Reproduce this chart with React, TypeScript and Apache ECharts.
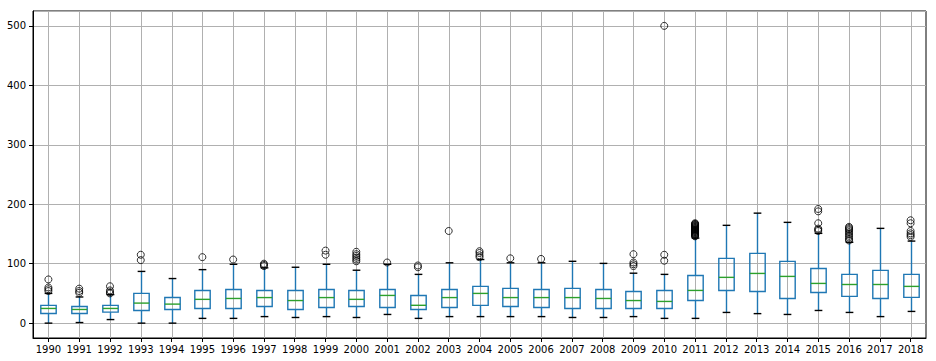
import React, { useEffect, useRef } from "react";
import * as echarts from "echarts";

const years = [
  "1990", "1991", "1992", "1993", "1994", "1995", "1996", "1997", "1998", "1999",
  "2000", "2001", "2002", "2003", "2004", "2005", "2006", "2007", "2008", "2009",
  "2010", "2011", "2012", "2013", "2014", "2015", "2016", "2017", "2018",
];

const whiskerLow = [0, 1, 6, 0, 0, 8, 8, 11, 9.5, 11, 9.5, 14.6, 8, 11, 11, 11, 11, 9.5, 9.5, 11, 8, 8, 18, 16, 14.6, 21.3, 18, 11, 19.7];
const q1 = [16.3, 16.3, 18.5, 21.3, 23, 24.7, 24.7, 28, 23, 26.4, 28, 26.4, 23, 26.4, 29.8, 28, 26.4, 24.7, 24.7, 24.7, 24.7, 38, 55, 53.3, 41.5, 51.6, 45, 41.5, 43.3];
const medians = [24.7, 23, 24.7, 33.7, 32, 40, 41.5, 43, 38, 43, 40, 46.6, 30, 43, 50, 43, 43, 43, 41.5, 38, 36.5, 55, 77, 83.6, 78.6, 66.8, 65, 65, 61.8];
const q3 = [29.8, 28, 29.8, 50, 43, 55, 56.7, 55, 55, 56.7, 55, 56.7, 46.6, 56.7, 61.8, 58.4, 56.7, 58.4, 56.7, 53.3, 55, 80, 109, 117.3, 103.8, 92, 82, 88.7, 82];
const whiskerHigh = [50, 44, 48, 87, 75, 90, 99, 93, 94, 99, 89, 99, 82, 101.5, 107, 101.5, 101.5, 104, 100.5, 84, 82, 143, 164.5, 185, 169.5, 151, 136, 159.4, 138];

const outliers: number[][] = [
  [73.5, 60, 57, 54],
  [58, 54, 51],
  [62, 55, 52, 50],
  [115, 106],
  [],
  [111],
  [107],
  [100, 98, 96],
  [],
  [122, 115],
  [120, 116, 113, 110, 107, 104],
  [102],
  [97, 94],
  [155],
  [121, 118, 114, 111],
  [109],
  [108],
  [],
  [],
  [116, 102, 99, 96],
  [500, 115, 105],
  [146, 147, 148, 149, 150, 151, 152, 153, 154, 155, 156, 157, 158, 159, 160, 161, 162, 163, 164, 165, 166, 167, 168],
  [],
  [],
  [],
  [192, 188, 168, 159, 157, 155],
  [162, 160, 158, 156, 153, 150, 147, 144, 141, 139],
  [],
  [173, 168, 155, 151, 148, 145],
];

const BLUE = "#1f77b4";
const GREEN = "#2ca02c";
const GRID = "#b0b0b0";
const FONT = "DejaVu Sans";

export default function App() {
  const ref = useRef<HTMLDivElement>(null);

  useEffect(() => {
    if (!ref.current) return;
    const chart = echarts.init(ref.current, undefined, { renderer: "svg" });

    const boxData = years.map((_, i) => [i, whiskerLow[i], q1[i], medians[i], q3[i], whiskerHigh[i]]);
    const outlierData: number[][] = [];
    outliers.forEach((list, i) => list.forEach((v) => outlierData.push([i, v])));

    const option: any = {
      animation: false,
      backgroundColor: "#ffffff",
      grid: {
        left: 33,
        right: 10,
        top: 11,
        bottom: 23,
        show: true,
        borderColor: "#000",
        borderWidth: 1,
        backgroundColor: "transparent",
      },
      xAxis: {
        type: "category",
        data: years,
        boundaryGap: true,
        axisLine: { show: true, onZero: false, lineStyle: { color: "#000", width: 1 } },
        axisTick: { show: true, alignWithLabel: true, length: 4, lineStyle: { color: "#000" } },
        axisLabel: { color: "#000", fontFamily: FONT, fontSize: 10, margin: 6, interval: 0 },
        splitLine: { show: false },
      },
      yAxis: {
        type: "value",
        min: -25,
        max: 525,
        splitNumber: 5,
        axisLine: { show: true, onZero: false, lineStyle: { color: "#000", width: 1 } },
        axisTick: { show: true, length: 4, lineStyle: { color: "#000" } },
        axisLabel: {
          color: "#000",
          fontFamily: FONT,
          fontSize: 10,
          margin: 7,
          showMinLabel: false,
          showMaxLabel: false,
          formatter: (v: number) => (v % 100 === 0 ? String(v) : ""),
        },
        splitLine: { show: true, lineStyle: { color: GRID, width: 1 } },
      },
      series: [
        {
          type: "custom",
          data: boxData,
          encode: { x: 0, y: [1, 2, 3, 4, 5] },
          z: 3,
          renderItem: (params: any, api: any) => {
            const idx = api.value(0);
            const lo = api.coord([idx, api.value(1)]);
            const b1 = api.coord([idx, api.value(2)]);
            const md = api.coord([idx, api.value(3)]);
            const b3 = api.coord([idx, api.value(4)]);
            const hi = api.coord([idx, api.value(5)]);
            const band = api.size([1, 0])[0];
            const bw = band * 0.5;
            const cw = bw * 0.5;
            const x = Math.round(lo[0]) + 0.5;
            const cs = params.coordSys;
            const lw = 1.4;
            return {
              type: "group",
              children: [
                {
                  type: "line",
                  shape: { x1: x, y1: cs.y, x2: x, y2: cs.y + cs.height },
                  style: { stroke: GRID, lineWidth: 1 },
                  z2: 0,
                },
                {
                  type: "line",
                  shape: { x1: x, y1: b3[1], x2: x, y2: hi[1] },
                  style: { stroke: BLUE, lineWidth: lw },
                  z2: 1,
                },
                {
                  type: "line",
                  shape: { x1: x, y1: b1[1], x2: x, y2: lo[1] },
                  style: { stroke: BLUE, lineWidth: lw },
                  z2: 1,
                },
                {
                  type: "rect",
                  shape: { x: x - bw / 2, y: b3[1], width: bw, height: b1[1] - b3[1] },
                  style: { fill: "none", stroke: BLUE, lineWidth: lw },
                  z2: 2,
                },
                {
                  type: "line",
                  shape: { x1: x - bw / 2, y1: md[1], x2: x + bw / 2, y2: md[1] },
                  style: { stroke: GREEN, lineWidth: lw },
                  z2: 3,
                },
                {
                  type: "line",
                  shape: { x1: x - cw / 2, y1: hi[1], x2: x + cw / 2, y2: hi[1] },
                  style: { stroke: "#000", lineWidth: lw },
                  z2: 3,
                },
                {
                  type: "line",
                  shape: { x1: x - cw / 2, y1: lo[1], x2: x + cw / 2, y2: lo[1] },
                  style: { stroke: "#000", lineWidth: lw },
                  z2: 3,
                },
              ],
            };
          },
        },
        {
          type: "scatter",
          data: outlierData,
          z: 4,
          symbol: "circle",
          symbolSize: 7,
          itemStyle: { color: "rgba(0,0,0,0)", borderColor: "#000", borderWidth: 1 },
          emphasis: { disabled: true },
        },
      ],
    };

    chart.setOption(option);
    return () => chart.dispose();
  }, []);

  return (
    <div
      ref={ref}
      style={{ position: "fixed", left: 0, top: 0, width: 936, height: 361, background: "#fff" }}
    />
  );
}
